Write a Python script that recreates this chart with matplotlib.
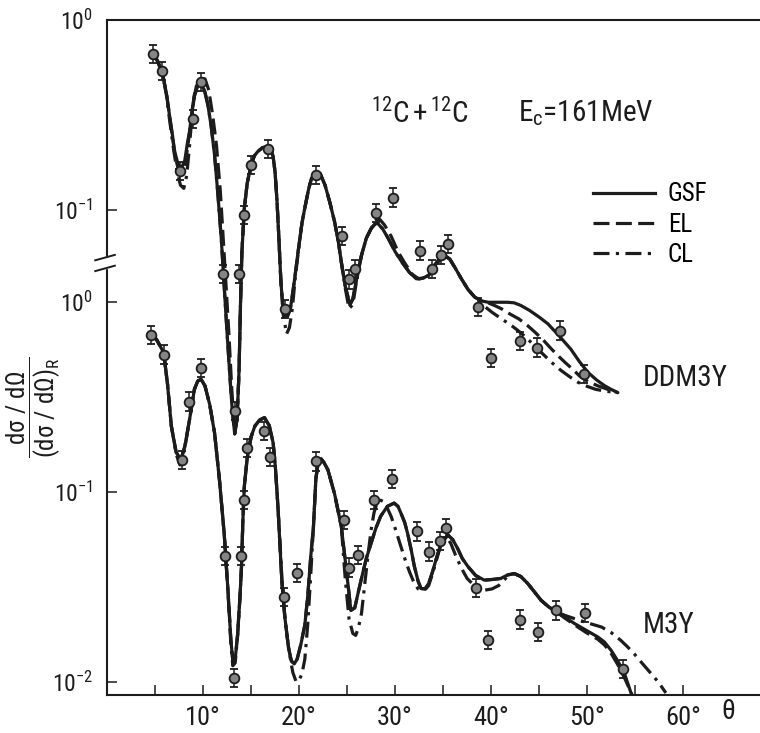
import numpy as np
import matplotlib
matplotlib.use('Agg')
import matplotlib.pyplot as plt
from matplotlib import font_manager
from matplotlib.ticker import FixedLocator, FixedFormatter, NullLocator
from matplotlib.lines import Line2D
from matplotlib.patches import Rectangle

# --- measured data: 12C + 12C, Ec = 161 MeV (dsigma/dsigma_R) ---
ddm3y_theta = [4.8, 5.7, 7.6, 8.95, 9.75, 12.1, 13.3, 13.7, 14.3, 15.0, 16.8, 18.5, 21.8,
               24.5, 25.2, 25.8, 28.0, 29.8, 32.6, 33.8, 34.8, 35.5, 38.6, 40.0, 43.05,
               44.8, 47.2, 49.7]
ddm3y_sigma = [0.66, 0.54, 0.16, 0.30, 0.47, 0.046, 0.0087, 0.046, 0.094, 0.172, 0.21, 0.030,
               0.153, 0.073, 0.043, 0.049, 0.096, 0.116, 0.061, 0.049, 0.058, 0.066, 0.0309,
               0.0166, 0.0203, 0.0188, 0.0231, 0.0136]

m3y_theta = [4.55, 5.9, 7.8, 8.5, 9.75, 12.3, 13.2, 14.0, 14.3, 14.6, 16.4, 17.0, 18.4, 19.8,
             21.8, 24.7, 25.2, 26.1, 27.8, 29.7, 32.3, 33.5, 34.7, 35.3, 38.4, 39.65, 43.05,
             44.9, 46.8, 49.8, 53.7]
m3y_sigma = [0.675, 0.53, 0.148, 0.30, 0.45, 0.046, 0.0105, 0.046, 0.091, 0.171, 0.21, 0.153,
             0.028, 0.0376, 0.145, 0.071, 0.040, 0.0466, 0.091, 0.117, 0.062, 0.0486, 0.055,
             0.0645, 0.0313, 0.0166, 0.0213, 0.0183, 0.0238, 0.0231, 0.0117]
rel_err = 0.117

# --- calculated curves, given as log10(dsigma/dsigma_R) ---
ddm3y_gsf_theta = [4.8, 5.3, 5.8, 6.2, 6.5, 6.8, 7.05, 7.4, 7.75, 8.1, 8.4, 8.6, 8.85, 9.1, 9.45,
                   9.8, 10.15, 10.5, 10.85, 11.2, 11.55, 11.9, 12.2, 12.5, 12.8, 13.05, 13.3,
                   13.55, 13.75, 13.9, 14.05, 14.3, 14.6, 15.0, 15.35, 15.7, 16.2, 16.8, 17.1,
                   17.3, 17.5, 17.7, 17.9, 18.1, 18.3, 18.5, 18.8, 19.1, 19.5, 19.9, 20.3, 20.6,
                   21.0, 21.3, 21.8, 22.2, 22.7, 23.2, 23.7, 24.1, 24.4, 24.8, 25.3, 25.6, 26.0,
                   26.5, 27.0, 27.5, 27.9, 28.2, 28.7, 29.3, 30.0, 30.7, 31.5, 32.2, 32.9, 33.5,
                   34.2, 34.8, 35.2, 35.7, 36.3, 36.9, 37.6, 38.3, 39.0, 39.7, 40.7, 41.7, 42.4,
                   43.1, 44.0, 45.0, 45.9, 47.1, 48.3, 49.2, 50.1, 51.0, 51.8, 52.5, 53.2]
ddm3y_gsf_log = [-0.173, -0.22, -0.287, -0.39, -0.499, -0.60, -0.693, -0.76, -0.781, -0.74,
                 -0.64, -0.587, -0.48, -0.393, -0.35, -0.34, -0.37, -0.446, -0.56, -0.711,
                 -0.92, -1.152, -1.40, -1.646, -1.88, -2.06, -2.18, -2.10, -1.85, -1.50, -1.22,
                 -0.993, -0.86, -0.763, -0.715, -0.693, -0.672, -0.667, -0.685, -0.72, -0.80,
                 -0.95, -1.15, -1.37, -1.51, -1.557, -1.56, -1.52, -1.38, -1.22, -1.07, -0.99,
                 -0.89, -0.834, -0.799, -0.81, -0.869, -0.96, -1.063, -1.17, -1.275, -1.40,
                 -1.50, -1.47, -1.36, -1.24, -1.15, -1.099, -1.075, -1.072, -1.10, -1.152,
                 -1.22, -1.275, -1.33, -1.363, -1.36, -1.345, -1.29, -1.258, -1.24, -1.26,
                 -1.31, -1.363, -1.42, -1.46, -1.48, -1.487, -1.487, -1.487, -1.49, -1.504,
                 -1.53, -1.565, -1.60, -1.665, -1.734, -1.80, -1.857, -1.897, -1.926, -1.946,
                 -1.963]

ddm3y_el_theta = [4.8, 5.3, 5.8, 6.2, 6.5, 6.8, 7.1, 7.45, 7.8, 8.15, 8.45, 8.7, 9.0, 9.3, 9.7,
                  10.2, 10.6, 11.0, 11.4, 11.8, 12.1, 12.4, 12.7, 13.0, 13.3, 13.55, 13.75,
                  13.9, 14.05, 14.3, 14.6, 15.0, 15.35, 15.7, 16.2, 16.8, 17.1, 17.3, 17.5,
                  17.7, 17.9, 18.1, 18.3, 18.5, 18.8, 19.1, 19.5, 19.9, 20.3, 20.6, 21.0, 21.3,
                  21.8, 22.2, 22.7, 23.2, 23.7, 24.1, 24.4, 24.8, 25.3, 25.6, 26.0, 26.5, 27.0,
                  27.6, 28.0, 28.4, 28.9, 29.6, 30.3, 31.0, 31.8, 32.5, 33.2, 33.8, 34.5, 35.2,
                  35.7, 36.3, 36.9, 37.6, 38.3, 39.0, 39.7, 40.4, 41.1, 42.0, 42.9, 43.8, 44.6,
                  45.5, 46.3, 47.0, 47.7, 48.5, 49.2, 50.1, 51.1, 52.1, 53.2]
ddm3y_el_log = [-0.173, -0.22, -0.287, -0.39, -0.50, -0.61, -0.72, -0.79, -0.81, -0.76, -0.65,
                -0.55, -0.43, -0.35, -0.31, -0.31, -0.37, -0.50, -0.66, -0.90, -1.15, -1.40,
                -1.66, -1.95, -2.18, -2.10, -1.85, -1.50, -1.22, -0.993, -0.86, -0.763, -0.715,
                -0.693, -0.672, -0.667, -0.685, -0.72, -0.80, -0.95, -1.15, -1.37, -1.51,
                -1.557, -1.56, -1.52, -1.38, -1.22, -1.07, -0.99, -0.89, -0.834, -0.799, -0.81,
                -0.869, -0.96, -1.063, -1.17, -1.275, -1.40, -1.50, -1.47, -1.36, -1.24,
                -1.15, -1.09, -1.055, -1.05, -1.08, -1.14, -1.22, -1.28, -1.34, -1.365, -1.355,
                -1.31, -1.265, -1.245, -1.26, -1.31, -1.363, -1.42, -1.46, -1.48, -1.49,
                -1.505, -1.522, -1.55, -1.575, -1.61, -1.646, -1.69, -1.734, -1.77, -1.804,
                -1.84, -1.875, -1.905, -1.927, -1.945, -1.963]

ddm3y_cl_theta = [4.8, 5.3, 5.8, 6.2, 6.5, 6.9, 7.3, 7.65, 8.0, 8.3, 8.6, 8.85, 9.1, 9.45, 9.8,
                  10.15, 10.5, 10.85, 11.2, 11.55, 11.9, 12.2, 12.5, 12.8, 13.05, 13.3, 13.55,
                  13.75, 13.9, 14.05, 14.3, 14.6, 15.0, 15.35, 15.7, 16.2, 16.8, 17.1, 17.3,
                  17.5, 17.7, 17.9, 18.1, 18.35, 18.7, 19.0, 19.3, 19.6, 19.9, 20.3, 20.6, 21.0,
                  21.3, 21.8, 22.2, 22.7, 23.2, 23.7, 24.1, 24.4, 24.8, 25.2, 25.6, 26.0, 26.5,
                  27.0, 27.5, 27.9, 28.2, 28.7, 29.3, 30.0, 30.7, 31.5, 32.2, 32.9, 33.5, 34.2,
                  34.8, 35.2, 35.7, 36.3, 36.9, 37.6, 38.3, 38.8, 39.2, 40.1, 41.1, 42.0, 42.8,
                  43.7, 44.5, 45.4, 46.3, 47.3, 48.2, 49.1, 50.0, 50.9, 52.0, 53.2]
ddm3y_cl_log = [-0.173, -0.22, -0.287, -0.40, -0.52, -0.67, -0.80, -0.87, -0.887, -0.82, -0.66,
                -0.50, -0.40, -0.35, -0.34, -0.37, -0.446, -0.56, -0.711, -0.92, -1.152,
                -1.40, -1.646, -1.88, -2.06, -2.18, -2.10, -1.85, -1.50, -1.22, -0.993, -0.86,
                -0.763, -0.715, -0.693, -0.672, -0.667, -0.685, -0.72, -0.80, -0.95, -1.15,
                -1.37, -1.55, -1.654, -1.62, -1.52, -1.36, -1.23, -1.07, -0.99, -0.89, -0.834,
                -0.799, -0.81, -0.869, -0.96, -1.063, -1.17, -1.275, -1.41, -1.52, -1.50,
                -1.37, -1.24, -1.15, -1.099, -1.075, -1.072, -1.10, -1.152, -1.22, -1.275,
                -1.33, -1.363, -1.36, -1.345, -1.29, -1.258, -1.24, -1.26, -1.31, -1.363,
                -1.42, -1.46, -1.48, -1.504, -1.54, -1.575, -1.605, -1.636, -1.675, -1.716,
                -1.76, -1.804, -1.847, -1.88, -1.91, -1.93, -1.946, -1.956, -1.963]

m3y_gsf_theta = [4.6, 5.2, 5.9, 6.3, 6.7, 7.2, 7.7, 8.1, 8.6, 9.1, 9.45, 9.8, 10.2, 10.7, 11.2,
                 11.7, 12.2, 12.6, 12.9, 13.1, 13.35, 13.6, 13.85, 14.0, 14.15, 14.3, 14.6,
                 15.0, 15.4, 15.9, 16.4, 16.9, 17.3, 17.55, 17.8, 18.0, 18.2, 18.5, 18.9, 19.2,
                 19.5, 19.8, 20.2, 20.6, 20.9, 21.2, 21.5, 21.75, 22.0, 22.3, 22.6, 23.0, 23.7,
                 24.4, 24.9, 25.4, 25.8, 26.2, 26.5, 27.0, 27.5, 28.0, 28.5, 29.2, 29.9, 30.3,
                 30.6, 31.0, 31.3, 31.7, 32.0, 32.4, 32.7, 33.1, 33.5, 33.9, 34.3, 34.8, 35.5,
                 36.0, 36.5, 37.0, 37.6, 38.4, 39.3, 40.2, 41.0, 41.7, 42.4, 43.1, 43.8, 44.5,
                 45.2, 46.0, 46.8, 47.7, 48.7, 49.9, 51.1, 51.8, 52.5, 53.2, 53.9, 54.6]
m3y_gsf_log = [-0.159, -0.20, -0.265, -0.43, -0.652, -0.79, -0.829, -0.76, -0.617, -0.459,
               -0.415, -0.406, -0.44, -0.54, -0.688, -0.93, -1.217, -1.52, -1.78, -1.887,
               -1.88, -1.75, -1.55, -1.40, -1.15, -0.97, -0.82, -0.71, -0.652, -0.62, -0.608,
               -0.65, -0.741, -0.88, -1.076, -1.27, -1.464, -1.65, -1.82, -1.89, -1.905,
               -1.88, -1.80, -1.70, -1.55, -1.35, -1.181, -0.93, -0.84, -0.825, -0.845,
               -0.882, -1.01, -1.181, -1.40, -1.623, -1.61, -1.52, -1.455, -1.35, -1.27,
               -1.19, -1.127, -1.075, -1.058, -1.075, -1.11, -1.16, -1.217, -1.31, -1.39,
               -1.47, -1.508, -1.51, -1.481, -1.42, -1.349, -1.27, -1.226, -1.25, -1.296,
               -1.35, -1.393, -1.44, -1.464, -1.46, -1.455, -1.437, -1.429, -1.445, -1.481,
               -1.525, -1.57, -1.605, -1.631, -1.66, -1.693, -1.728, -1.763, -1.79, -1.834,
               -1.89, -1.958, -2.063]

m3y_el_theta = [4.6, 5.2, 5.9, 6.3, 6.7, 7.2, 7.7, 8.1, 8.6, 9.1, 9.45, 9.8, 10.2, 10.7, 11.2,
                11.7, 12.2, 12.6, 12.9, 13.1, 13.35, 13.6, 13.85, 14.0, 14.15, 14.3, 14.6,
                15.0, 15.4, 15.9, 16.4, 16.9, 17.3, 17.55, 17.8, 18.0, 18.2, 18.5, 18.9, 19.2,
                19.5, 19.8, 20.2, 20.6, 20.9, 21.2, 21.5, 21.75, 22.0, 22.3, 22.6, 23.0, 23.7,
                24.4, 24.9, 25.4, 25.8, 26.2, 26.5, 27.0, 27.5, 28.0, 28.5, 29.2, 29.9, 30.3,
                30.6, 31.0, 31.3, 31.7, 32.0, 32.4, 32.7, 33.1, 33.5, 33.9, 34.3, 34.8, 35.5,
                36.0, 36.5, 37.0, 37.6, 38.4, 39.3, 40.2, 41.0, 41.7, 42.4, 43.1, 43.8, 44.5,
                45.2, 46.0, 46.8, 47.7, 48.7, 49.9, 51.1, 51.8, 52.5, 53.2, 53.9, 54.7]
m3y_el_log = [-0.159, -0.20, -0.265, -0.43, -0.652, -0.79, -0.829, -0.76, -0.617, -0.459,
              -0.415, -0.406, -0.44, -0.54, -0.688, -0.93, -1.217, -1.52, -1.78, -1.887,
              -1.88, -1.75, -1.55, -1.40, -1.15, -0.97, -0.82, -0.71, -0.652, -0.62, -0.608,
              -0.65, -0.741, -0.88, -1.076, -1.27, -1.464, -1.65, -1.82, -1.89, -1.905,
              -1.88, -1.80, -1.70, -1.55, -1.35, -1.181, -0.93, -0.84, -0.825, -0.845,
              -0.882, -1.01, -1.181, -1.40, -1.623, -1.61, -1.52, -1.455, -1.35, -1.27,
              -1.19, -1.127, -1.075, -1.058, -1.075, -1.11, -1.16, -1.217, -1.31, -1.39,
              -1.47, -1.508, -1.51, -1.481, -1.42, -1.349, -1.27, -1.226, -1.25, -1.296,
              -1.35, -1.393, -1.44, -1.464, -1.46, -1.455, -1.437, -1.429, -1.445, -1.481,
              -1.525, -1.57, -1.605, -1.631, -1.665, -1.70, -1.74, -1.775, -1.805, -1.85,
              -1.91, -1.98, -2.07]

m3y_cl_theta = [4.6, 5.2, 5.9, 6.3, 6.7, 7.2, 7.6, 8.1, 8.6, 9.1, 9.45, 9.8, 10.2, 10.7, 11.2,
                11.7, 12.2, 12.6, 12.9, 13.1, 13.35, 13.6, 13.85, 14.0, 14.15, 14.3, 14.6,
                15.0, 15.4, 15.9, 16.4, 16.9, 17.3, 17.55, 17.8, 18.05, 18.3, 18.65, 19.0,
                19.35, 19.7, 20.0, 20.3, 20.6, 20.9, 21.2, 21.5, 21.75, 22.0, 22.3, 22.6, 23.0,
                23.7, 24.4, 24.8, 25.2, 25.6, 25.9, 26.2, 26.5, 26.85, 27.2, 27.5, 27.8, 28.1,
                28.4, 28.8, 29.2, 29.6, 30.0, 30.5, 31.0, 31.5, 32.0, 32.4, 32.8, 33.2, 33.5,
                33.9, 34.3, 34.8, 35.3, 35.8, 36.3, 36.9, 37.5, 38.4, 39.3, 40.1, 40.8, 41.6,
                42.4, 43.1, 43.8, 44.5, 45.2, 46.0, 46.8, 47.7, 48.7, 50.1, 51.5, 52.5, 53.5,
                54.2, 54.9, 55.7, 56.5, 57.4, 58.2]
m3y_cl_log = [-0.159, -0.20, -0.265, -0.43, -0.652, -0.80, -0.857, -0.77, -0.617, -0.459,
              -0.415, -0.406, -0.44, -0.54, -0.688, -0.93, -1.217, -1.53, -1.80, -1.915,
              -1.90, -1.76, -1.55, -1.40, -1.15, -0.97, -0.82, -0.71, -0.652, -0.62, -0.608,
              -0.65, -0.741, -0.88, -1.076, -1.30, -1.534, -1.72, -1.852, -1.95, -2.0, -1.99,
              -1.958, -1.88, -1.70, -1.45, -1.181, -0.93, -0.84, -0.825, -0.845, -0.882,
              -1.01, -1.181, -1.45, -1.667, -1.745, -1.755, -1.71, -1.64, -1.48, -1.323,
              -1.20, -1.11, -1.06, -1.041, -1.05, -1.085, -1.13, -1.19, -1.27, -1.349, -1.42,
              -1.481, -1.51, -1.519, -1.51, -1.492, -1.43, -1.36, -1.27, -1.233, -1.27,
              -1.333, -1.40, -1.455, -1.50, -1.517, -1.51, -1.492, -1.45, -1.429, -1.445,
              -1.481, -1.525, -1.57, -1.605, -1.631, -1.65, -1.667, -1.69, -1.711, -1.74,
              -1.781, -1.815, -1.852, -1.90, -1.947, -2.0, -2.058]

# DDM3Y set is drawn shifted up (its own 10^-1 / 10^0 labels on the upper axis part)
SHIFT = 10 ** 1.487

# --- fonts ---
names = {f.name for f in font_manager.fontManager.ttflist}
narrow = next((n for n in ['Roboto Condensed', 'Liberation Sans Narrow', 'Open Sans Condensed',
                           'DejaVu Sans'] if n in names), 'DejaVu Sans')
plt.rcParams['font.family'] = [narrow, 'DejaVu Sans']
plt.rcParams['mathtext.fontset'] = 'custom'
plt.rcParams['mathtext.rm'] = narrow
plt.rcParams['mathtext.it'] = narrow
plt.rcParams['mathtext.sf'] = narrow
plt.rcParams['mathtext.default'] = 'rm'

ink = '#1c1c1c'
fig = plt.figure(figsize=(7.6, 7.33), dpi=100)
ax = fig.add_axes([107 / 760, 38 / 733, 653 / 760, 675 / 733])
ax.set_yscale('log')
ax.set_xlim(0, 68)
ax.set_ylim(10 ** -2.069, SHIFT)

lw = 2.3
styles = {'GSF': dict(ls='-'), 'EL': dict(ls=(0, (5, 2))), 'CL': dict(ls=(0, (5, 2, 1, 2)))}

curves = [
    (ddm3y_gsf_theta, ddm3y_gsf_log, SHIFT, 'GSF'),
    (ddm3y_el_theta, ddm3y_el_log, SHIFT, 'EL'),
    (ddm3y_cl_theta, ddm3y_cl_log, SHIFT, 'CL'),
    (m3y_gsf_theta, m3y_gsf_log, 1.0, 'GSF'),
    (m3y_el_theta, m3y_el_log, 1.0, 'EL'),
    (m3y_cl_theta, m3y_cl_log, 1.0, 'CL'),
]
for th, lg, scale, key in curves:
    ax.plot(th, 10 ** np.array(lg) * scale, color=ink, lw=lw, solid_capstyle='round',
            **styles[key])

# data points with error bars
for th, sg, scale in [(ddm3y_theta, ddm3y_sigma, SHIFT), (m3y_theta, m3y_sigma, 1.0)]:
    y = np.array(sg) * scale
    err = [y - y / (1 + rel_err), y * rel_err]
    ax.errorbar(th, y, yerr=err, fmt='o', ms=7, mfc='#858585', mec=ink, mew=1.3,
                ecolor=ink, elinewidth=1.1, capsize=3.2, capthick=1.1, zorder=4)

# axes styling
for side in ['left', 'bottom', 'top']:
    ax.spines[side].set_linewidth(1.5)
    ax.spines[side].set_color(ink)
ax.spines['right'].set_visible(False)

yt = [0.01, 0.1, 1.0, 0.1 * SHIFT, SHIFT]
ylab = [r'$\mathdefault{10^{-2}}$', r'$\mathdefault{10^{-1}}$', r'$\mathdefault{10^{0}}$',
        r'$\mathdefault{10^{-1}}$', r'$\mathdefault{10^{0}}$']
ax.yaxis.set_major_locator(FixedLocator(yt))
ax.yaxis.set_major_formatter(FixedFormatter(ylab))
ax.yaxis.set_minor_locator(NullLocator())
ax.xaxis.set_major_locator(FixedLocator([10, 20, 30, 40, 50, 60]))
ax.xaxis.set_major_formatter(FixedFormatter(['10°', '20°', '30°', '40°', '50°', '60°']))
ax.xaxis.set_minor_locator(FixedLocator([5, 15, 25, 35, 45, 55]))
ax.tick_params(axis='both', which='both', direction='in', length=7, width=1.1, color=ink,
               top=False, right=False)
ax.tick_params(axis='x', labelsize=19, pad=8, colors=ink)
ax.tick_params(axis='y', labelsize=17, pad=10, colors=ink)

# axis break on the left spine
ax.add_patch(Rectangle((-0.01, 0.632), 0.02, 0.015, transform=ax.transAxes, color='white',
                       clip_on=False, zorder=5))
for y0 in (0.644, 0.628):
    ax.add_line(Line2D([-0.018, 0.012], [y0, y0 + 0.008], transform=ax.transAxes, color=ink,
                       lw=1.4, clip_on=False, zorder=6))

# labels
ax.text(-0.112, 0.427, r'$\dfrac{d\sigma\ /\ d\Omega}{(d\sigma\ /\ d\Omega)_R}$',
        transform=ax.transAxes, rotation=90, ha='center', va='center', fontsize=18, color=ink)
ax.text(0.951, -0.025, 'θ', transform=ax.transAxes, ha='center', va='center', fontsize=20,
        color=ink)
ax.text(0.404, 0.862, r'$^{12}$C$\,$+$\,$$^{12}$C', transform=ax.transAxes, ha='left',
        va='center', fontsize=21, color=ink)
ax.text(0.629, 0.862, r'E$_\mathregular{c}$=161MeV', transform=ax.transAxes, ha='left',
        va='center', fontsize=21, color=ink)
ax.text(0.821, 0.470, 'DDM3Y', transform=ax.transAxes, ha='left', va='center', fontsize=21,
        color=ink)
ax.text(0.821, 0.104, 'M3Y', transform=ax.transAxes, ha='left', va='center', fontsize=21,
        color=ink)

handles = [Line2D([], [], color=ink, lw=lw, **styles[k]) for k in ['GSF', 'EL', 'CL']]
ax.legend(handles, ['GSF', 'EL', 'CL'], loc='upper left', bbox_to_anchor=(0.725, 0.778),
          frameon=False, fontsize=18, handlelength=2.5, handletextpad=0.5, labelspacing=0.25,
          borderpad=0.0)

fig.savefig('out.png', dpi=100)
